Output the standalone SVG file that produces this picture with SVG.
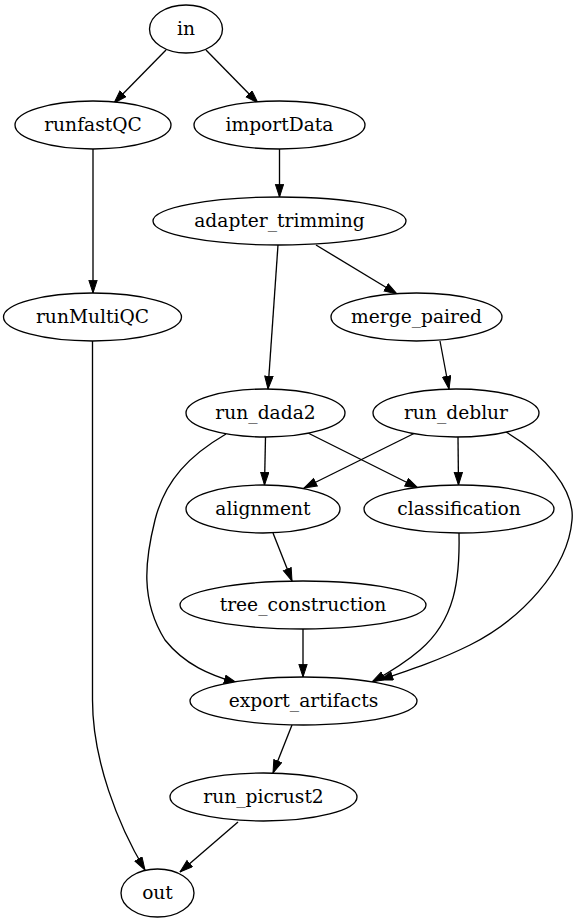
<svg xmlns="http://www.w3.org/2000/svg" width="579" height="923" viewBox="0 0 579 923">
<style>
.n ellipse{fill:#fff;stroke:#000;stroke-width:1.33}
.n text{font-family:"DejaVu Serif",serif;font-size:18.67px;text-anchor:middle;fill:#000}
.e path{fill:none;stroke:#000;stroke-width:1.33;marker-end:url(#ah)}
</style>
<defs>
<marker id="ah" markerUnits="userSpaceOnUse" viewBox="0 0 14 10" markerWidth="14" markerHeight="10" refX="13.3" refY="4.67" orient="auto">
<path d="M0.5,0.5 L13.3,4.67 L0.5,8.84 z" fill="#000" stroke="#000" stroke-width="1"/>
</marker>
</defs>
<rect width="579" height="923" fill="#fff"/>
<g id="edges" class="e">
<path d="M166,50 L114,103"/>
<path d="M206,50 L258,103"/>
<path d="M93,149 L93,293"/>
<path d="M279.5,149 L279.5,197"/>
<path d="M278,245 L268,389"/>
<path d="M316,245 L397,294"/>
<path d="M440,341 L449,389"/>
<path d="M92.5,341 L92.5,700 C92.5,760 118,825 145,870"/>
<path d="M265.5,437 L264.5,485"/>
<path d="M308,433 L418,488"/>
<path d="M415,433 L304,488"/>
<path d="M458,437 L458.5,485"/>
<path d="M226,434 C190,455 165,480 155,520 C145,560 140,600 165,640 C185,665 210,675 237,683"/>
<path d="M506,432 C545,455 575,490 572,520 C568,570 520,620 470,645 C440,660 410,670 380,680"/>
<path d="M459,533 C460,580 455,620 420,650 C405,663 390,672 372,682"/>
<path d="M273,533 L292,581"/>
<path d="M303,629 L303,677"/>
<path d="M292,725 L273,773"/>
<path d="M238,822 L180,872"/>
</g>
<g id="in" class="n"><ellipse cx="186" cy="29" rx="36.5" ry="24"/><text x="186" y="34.6">in</text></g>
<g id="runfastQC" class="n"><ellipse cx="93" cy="125" rx="78" ry="24"/><text x="93" y="130.6">runfastQC</text></g>
<g id="importData" class="n"><ellipse cx="279.5" cy="125" rx="85.5" ry="24"/><text x="279.5" y="130.6">importData</text></g>
<g id="adapter_trimming" class="n"><ellipse cx="279.5" cy="221" rx="126.5" ry="24"/><text x="279.5" y="226.6">adapter_trimming</text></g>
<g id="runMultiQC" class="n"><ellipse cx="92.5" cy="317" rx="89" ry="24"/><text x="92.5" y="322.6">runMultiQC</text></g>
<g id="merge_paired" class="n"><ellipse cx="416.5" cy="317" rx="85.5" ry="24"/><text x="416.5" y="322.6">merge_paired</text></g>
<g id="run_dada2" class="n"><ellipse cx="265.5" cy="413" rx="79.5" ry="24"/><text x="265.5" y="418.6">run_dada2</text></g>
<g id="run_deblur" class="n"><ellipse cx="456" cy="413" rx="83" ry="24"/><text x="456" y="418.6">run_deblur</text></g>
<g id="alignment" class="n"><ellipse cx="263" cy="509" rx="77" ry="24"/><text x="263" y="514.6">alignment</text></g>
<g id="classification" class="n"><ellipse cx="459" cy="509" rx="95" ry="24"/><text x="459" y="514.6">classification</text></g>
<g id="tree_construction" class="n"><ellipse cx="303" cy="605" rx="123" ry="24"/><text x="303" y="610.6">tree_construction</text></g>
<g id="export_artifacts" class="n"><ellipse cx="303.5" cy="701" rx="113.5" ry="24"/><text x="303.5" y="706.6">export_artifacts</text></g>
<g id="run_picrust2" class="n"><ellipse cx="263.5" cy="797" rx="93.5" ry="24"/><text x="263.5" y="802.6">run_picrust2</text></g>
<g id="out" class="n"><ellipse cx="157.5" cy="893" rx="36.5" ry="24"/><text x="157.5" y="898.6">out</text></g>
</svg>
